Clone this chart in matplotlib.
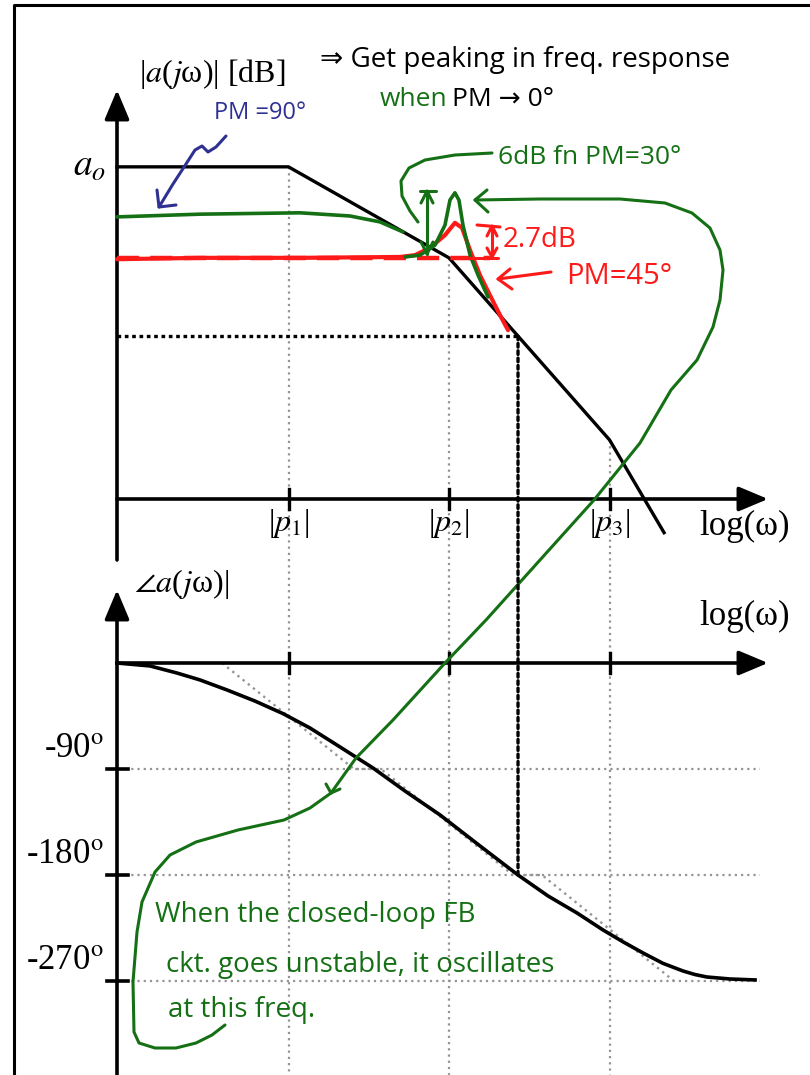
import numpy as np
import matplotlib
matplotlib.use('Agg')
import matplotlib.pyplot as plt
from matplotlib.patches import FancyArrowPatch, ConnectionPatch

plt.rcParams['font.family'] = ['Liberation Serif', 'DejaVu Serif']
plt.rcParams['mathtext.fontset'] = 'stix'

# ------------------------------------------------------------------ data
pole_labels = [r'|$p_1$|', r'|$p_2$|', r'|$p_3$|']
pole_decades = [1.0, 2.0, 3.0]          # log10(|p_k|)
a0_db = 73.0                             # low-frequency open-loop gain (schematic dB)
mag_end_decade = 3.34

# open-loop phase (log10 w, degrees)
phase_x = [-0.069, 0.137, 0.305, 0.449, 0.617, 0.791, 0.966, 1.134, 1.321, 1.526, 1.726,
           1.944, 2.193, 2.430, 2.617, 2.797, 2.960, 3.085, 3.209, 3.333, 3.458, 3.532,
           3.607, 3.751, 3.907]
phase_deg = [0.0, -2.5, -8.5, -14.4, -22.9, -32.3, -43.0, -55.2, -71.3, -89.1, -108.7,
             -129.0, -155.3, -180.0, -197.8, -212.2, -226.7, -236.8, -246.2, -255.0, -261.5,
             -264.5, -266.6, -268.3, -269.1]
# straight-line phase asymptote
phase_asym_x = [0.586, 1.408, 1.576, 2.399, 2.579, 3.402]
phase_asym_deg = [0, -90, -90, -180, -180, -270]
phase_ticks = [-90, -180, -270]
phase_tick_labels = [r'-90$^{\mathrm{o}}$', r'-180$^{\mathrm{o}}$', r'-270$^{\mathrm{o}}$']

# hand-drawn closed-loop responses (log10 w, dB)
pm90_x = [-0.069, 0.449, 1.072, 1.383, 1.570, 1.713]
pm90_db = [62.0, 62.6, 62.9, 62.2, 60.9, 58.7]
pm45_level_db = 53.0
pm45_x = [-0.069, 0.449, 1.072, 1.695, 1.788, 1.882, 1.975, 2.037, 2.081, 2.131, 2.193, 2.255, 2.318, 2.368]
pm45_db = [52.7, 53.0, 53.0, 53.2, 53.6, 55.2, 58.0, 60.7, 59.6, 54.7, 49.2, 44.8, 40.4, 37.1]
pm30_x = [1.726, 1.819, 1.913, 1.975, 2.006, 2.037, 2.062, 2.087, 2.131, 2.181, 2.243]
pm30_db = [53.2, 53.6, 55.8, 60.2, 65.7, 67.3, 65.7, 60.2, 53.6, 49.2, 44.4]

# ------------------------------------------------------------------ layout
W, H = 810, 1075
fig = plt.figure(figsize=(W / 100, H / 100), dpi=100)
PXD = 160.5        # px per decade
X0 = 128.0         # px of log10(w) = 0
YAX = 117.0        # px of the vertical axes
MAG0 = 499.0       # px of 0 dB
PXDB = 4.55        # px per dB
PH0 = 663.0        # px of 0 deg
PXDEG = 106.0 / 90 # px per degree

ax_mag = fig.add_axes([0, 0, 1, 1])
ax_ph = fig.add_axes([0, 0, 1, 1])
ax_px = fig.add_axes([0, 0, 1, 1])
for a in (ax_mag, ax_ph, ax_px):
    a.axis('off')
ax_mag.set_xlim(-X0 / PXD, (W - X0) / PXD)
ax_mag.set_ylim(-(H - MAG0) / PXDB, MAG0 / PXDB)
ax_ph.set_xlim(-X0 / PXD, (W - X0) / PXD)
ax_ph.set_ylim(-(H - PH0) / PXDEG, PH0 / PXDEG)
ax_px.set_xlim(0, W)
ax_px.set_ylim(H, 0)

def dx(px):   # pixel column -> log10(w)
    return (px - X0) / PXD

GRAY = '#959595'
GREEN = '#157015'
RED = '#ff1a1a'
BLUE = '#2e3192'
HAND = ['Open Sans', 'DejaVu Sans']
DOT = (0, (1.0, 1.8))


def mag_asym(x):
    x = np.asarray(x, float)
    return a0_db - 20 * sum(np.clip(x - p, 0, None) for p in pole_decades)


def axis_arrow(ax, p0, p1):
    ax.add_patch(FancyArrowPatch(p0, p1, arrowstyle='-|>,head_length=1.0,head_width=0.42',
                                 mutation_scale=18, lw=2.6, color='k',
                                 shrinkA=0, shrinkB=0, zorder=5))

# ------------------------------------------------------------------ frame
ax_px.plot([14, 14, W], [H, 5, 5], color='k', lw=2.2, solid_capstyle='butt')

# ------------------------------------------------------------------ magnitude plot
x_axis0 = dx(YAX)
x_tip = dx(768)
axis_arrow(ax_mag, (x_axis0, 0), (x_tip, 0))
axis_arrow(ax_mag, (x_axis0, -(560 - MAG0) / PXDB), (x_axis0, (MAG0 - 90) / PXDB))

ylo_mag = ax_mag.get_ylim()[0]
for p, lab in zip(pole_decades, pole_labels):
    ax_mag.plot([p, p], [mag_asym(p), ylo_mag], color=GRAY, lw=1.6, ls=DOT, zorder=1)
    ax_mag.plot([p, p], [-10 / PXDB, 10 / PXDB], color='k', lw=2.4, zorder=5)
    ax_mag.text(p, -(524 - MAG0) / PXDB, lab, ha='center', va='center', fontsize=23, zorder=6)

mx = [x_axis0] + pole_decades + [mag_end_decade]
ax_mag.plot(mx, mag_asym(mx), color='k', lw=2.4, zorder=4, solid_joinstyle='miter')

# phase-crossover point
x180 = float(np.interp(-180, phase_deg[::-1], phase_x[::-1]))
m180 = float(mag_asym(x180))
ax_mag.plot([x_axis0, x180], [m180, m180], color='k', lw=2.4, ls=(0, (1.1, 1.1)), zorder=3)
fig.add_artist(ConnectionPatch((x180, m180), (x180, -180), 'data', 'data',
                               axesA=ax_mag, axesB=ax_ph, color='k', lw=2.4,
                               ls=(0, (1.1, 1.1)), zorder=3))

ax_mag.text(dx(106), a0_db, r'$a_o$', ha='right', va='center', fontsize=27)
ax_mag.text(dx(212), (MAG0 - 74) / PXDB, r'|$a$($j$ω)| [dB]', ha='center', va='center', fontsize=23)
ax_mag.text(dx(745), -(526 - MAG0) / PXDB, 'log(ω)', ha='center', va='center', fontsize=25)

# closed-loop curves
ax_mag.plot([x_axis0, dx(490)], [pm45_level_db, pm45_level_db], color=RED, lw=3.2,
            ls=(0, (5, 2.5)), zorder=6)
ax_mag.plot(pm45_x, pm45_db, color=RED, lw=3.0, zorder=7, solid_capstyle='round', solid_joinstyle='round')
ax_mag.plot(pm90_x, pm90_db, color=GREEN, lw=2.6, zorder=7, solid_capstyle='round', solid_joinstyle='round')
ax_mag.plot(pm30_x, pm30_db, color=GREEN, lw=2.6, zorder=8, solid_capstyle='round', solid_joinstyle='round')

# ------------------------------------------------------------------ phase plot
axis_arrow(ax_ph, (x_axis0, 0), (x_tip, 0))
axis_arrow(ax_ph, (x_axis0, ax_ph.get_ylim()[0]), (x_axis0, (PH0 - 590) / PXDEG))
for t, lab in zip(phase_ticks, phase_tick_labels):
    ax_ph.plot([dx(125), dx(760)], [t, t], color=GRAY, lw=1.6, ls=DOT, zorder=1)
    ax_ph.plot([dx(107), dx(128)], [t, t], color='k', lw=2.6, zorder=5)
    ax_ph.text(dx(104), t + 4 / PXDEG, lab, ha='right', va='bottom', fontsize=25)
for p in pole_decades:
    ax_ph.plot([p, p], [-10 / PXDEG, 10 / PXDEG], color='k', lw=2.4, zorder=5)

ax_ph.text(dx(745), (PH0 - 616) / PXDEG, 'log(ω)', ha='center', va='center', fontsize=25)
ax_ph.text(dx(134), (PH0 - 584) / PXDEG, r'$\angle a$($j$ω)|', ha='left', va='center', fontsize=23)

ax_ph.plot(phase_asym_x, phase_asym_deg, color=GRAY, lw=1.7, ls=DOT, zorder=1)
ax_ph.plot(phase_x, phase_deg, color='k', lw=2.6, zorder=4, solid_joinstyle='round')

# ------------------------------------------------------------------ hand annotations (pixel space)
def stroke(pts, color, lw=2.2, z=9):
    pts = np.array(pts, float)
    ax_px.plot(pts[:, 0], pts[:, 1], color=color, lw=lw, zorder=z,
               solid_capstyle='round', solid_joinstyle='round')

ax_px.text(320, 60, '⇒ Get peaking in freq. response', fontsize=20, family=HAND,
           ha='left', va='center', color='k')
ax_px.text(380, 100, 'when', fontsize=19, family=HAND, ha='left', va='center', color=GREEN)
ax_px.text(452, 100, 'PM → 0°', fontsize=19, family=HAND, ha='left', va='center', color='k')

ax_px.text(214, 113, 'PM =90°', fontsize=17, family=HAND, ha='left', va='center', color=BLUE)
stroke([(226, 136), (216, 147), (208, 152), (202, 146), (195, 150), (186, 164), (173, 184), (159, 207)], BLUE)
stroke([(157, 190), (159, 207), (176, 205)], BLUE)

ax_px.text(498, 158, '6dB fn PM=30°', fontsize=19, family=HAND, ha='left', va='center', color=GREEN)
stroke([(492, 153), (455, 155), (425, 160), (409, 168), (401, 181), (402, 196), (410, 211), (418, 222)], GREEN)
stroke([(427, 191), (427, 254)], GREEN)
stroke([(420, 191), (436, 191)], GREEN)
stroke([(421, 203), (427, 191), (433, 203)], GREEN)
stroke([(421, 242), (427, 254), (433, 242)], GREEN)

ax_px.text(503, 240, '2.7dB', fontsize=20, family=HAND, ha='left', va='center', color=RED)
stroke([(492, 226), (492, 257)], RED)
stroke([(477, 225), (500, 227)], RED)
stroke([(455, 258), (498, 258)], RED)
stroke([(487, 236), (492, 226), (497, 236)], RED)
stroke([(487, 248), (492, 257), (497, 248)], RED)

ax_px.text(566, 277, 'PM=45°', fontsize=21, family=HAND, ha='left', va='center', color=RED)
stroke([(551, 272), (498, 279)], RED)
stroke([(510, 269), (498, 279), (512, 289)], RED)

big = [(475, 200), (540, 199), (620, 199), (665, 203), (692, 213), (710, 228), (720, 250),
       (723, 270), (720, 300), (713, 327), (697, 360), (671, 390), (640, 443), (594, 500),
       (558, 540), (522, 580), (486, 620), (445, 663), (393, 720), (356, 758), (331, 793)]
stroke(big, GREEN)
stroke([(487, 190), (475, 200), (488, 212)], GREEN)
stroke([(326, 784), (331, 793), (340, 789)], GREEN)
loop = [(331, 793), (310, 808), (284, 820), (238, 830), (196, 842), (170, 855), (155, 872),
        (142, 902), (137, 932), (133, 982), (134, 1032), (139, 1043), (155, 1048), (176, 1048),
        (196, 1043), (212, 1035), (225, 1025)]
stroke(loop, GREEN)

ax_px.text(155, 915, 'When the closed-loop FB', fontsize=20, family=HAND, ha='left', va='center', color=GREEN)
ax_px.text(166, 965, 'ckt. goes unstable, it oscillates', fontsize=20, family=HAND, ha='left', va='center', color=GREEN)
ax_px.text(168, 1010, 'at this freq.', fontsize=20, family=HAND, ha='left', va='center', color=GREEN)

fig.savefig('out.png', dpi=100, facecolor='white')
